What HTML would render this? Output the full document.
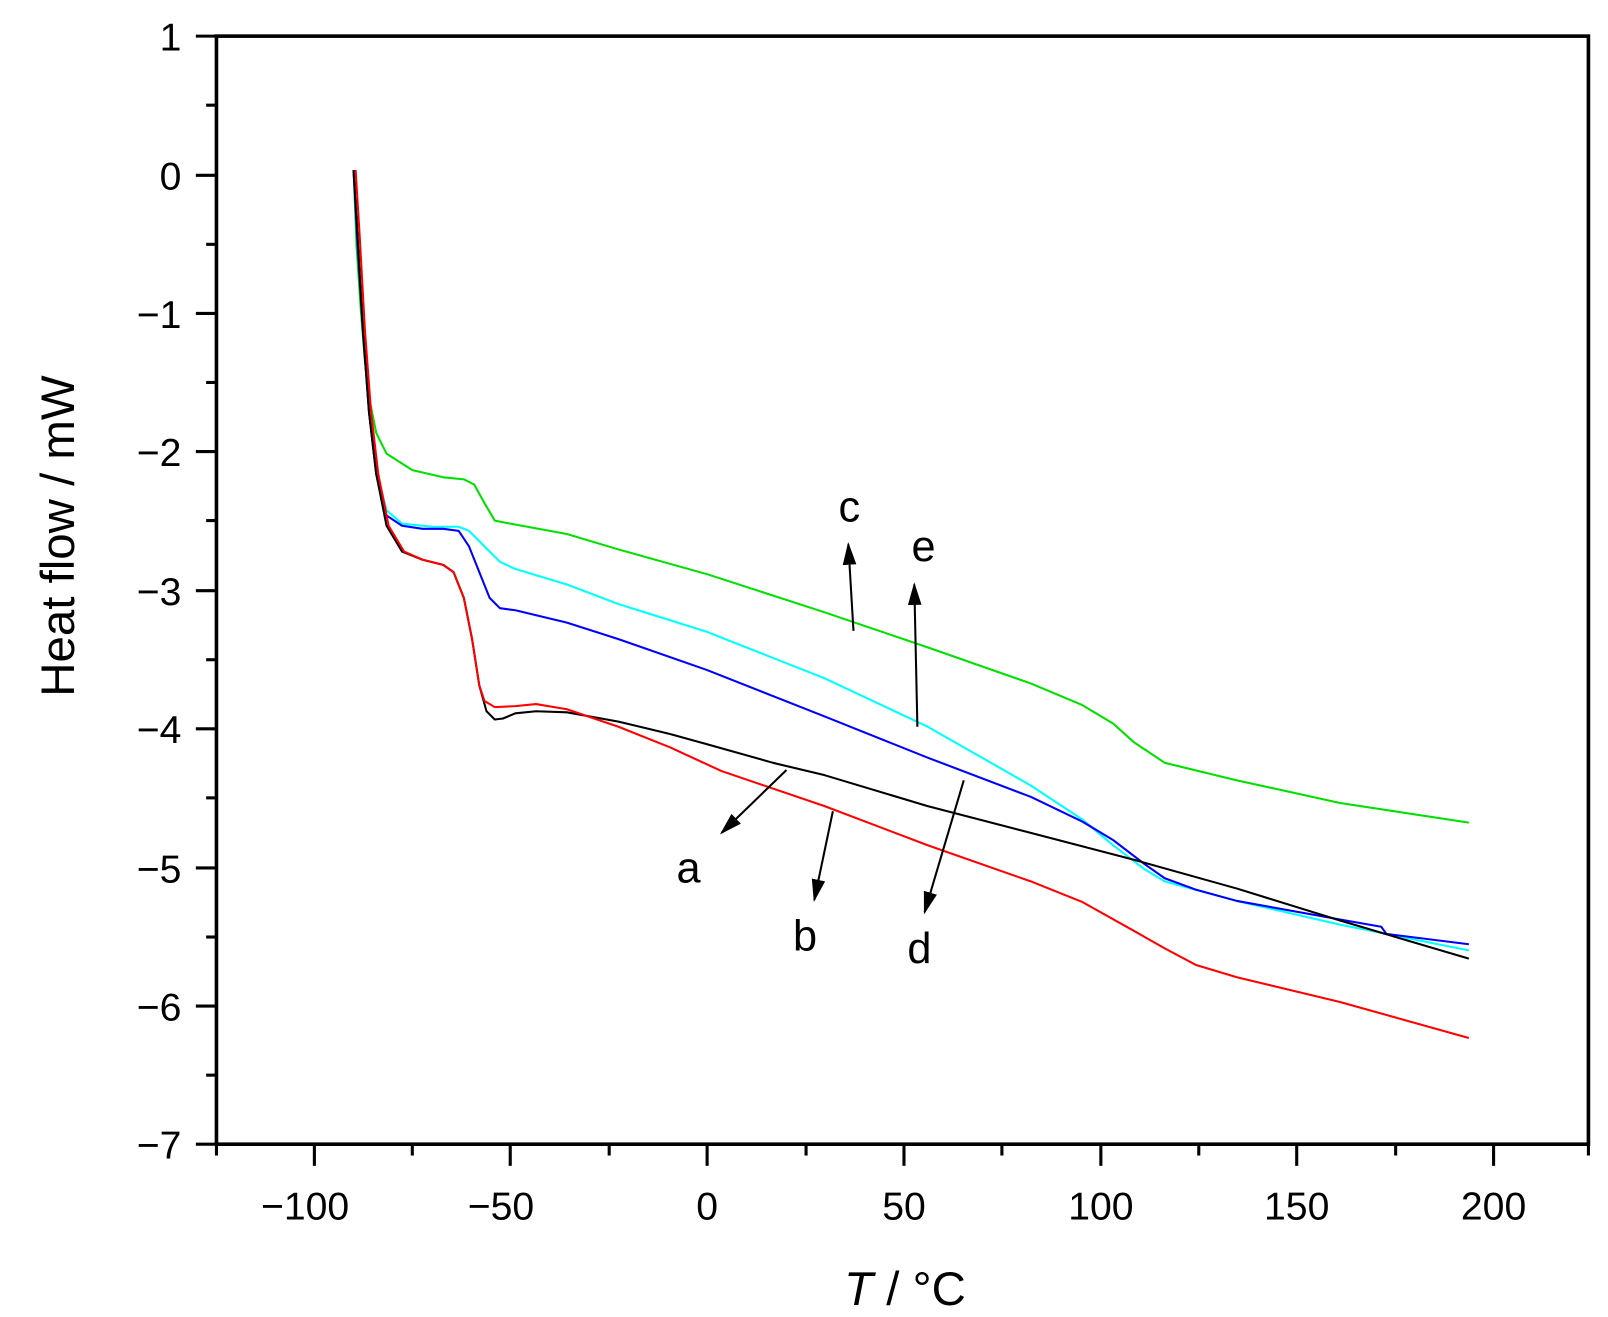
<!DOCTYPE html>
<html><head><meta charset="utf-8"><style>html,body{margin:0;padding:0;background:#fff}svg{display:block}</style></head><body>
<svg width="1608" height="1317" viewBox="0 0 1560 1277.6" xmlns="http://www.w3.org/2000/svg" font-family="Liberation Sans, Arial, sans-serif">
<defs><marker id="ah2" viewBox="0 0 10 10" refX="9" refY="5" markerWidth="22" markerHeight="22" markerUnits="userSpaceOnUse" orient="auto"><path d="M0,2 L10,5 L0,8 z" fill="#000"/></marker></defs>
<rect x="210" y="35" width="1331" height="1075" fill="none" stroke="#000" stroke-width="3.5"/>
<g stroke="#000" stroke-width="3">
<line x1="190" y1="35" x2="210" y2="35"/><line x1="190" y1="170" x2="210" y2="170"/><line x1="190" y1="304" x2="210" y2="304"/><line x1="190" y1="438" x2="210" y2="438"/><line x1="190" y1="573" x2="210" y2="573"/><line x1="190" y1="707" x2="210" y2="707"/><line x1="190" y1="842" x2="210" y2="842"/><line x1="190" y1="976" x2="210" y2="976"/><line x1="190" y1="1110" x2="210" y2="1110"/>
<line x1="200" y1="102" x2="210" y2="102"/><line x1="200" y1="237" x2="210" y2="237"/><line x1="200" y1="371" x2="210" y2="371"/><line x1="200" y1="505" x2="210" y2="505"/><line x1="200" y1="640" x2="210" y2="640"/><line x1="200" y1="774" x2="210" y2="774"/><line x1="200" y1="909" x2="210" y2="909"/><line x1="200" y1="1043" x2="210" y2="1043"/>
<line x1="305" y1="1110" x2="305" y2="1131"/><line x1="495" y1="1110" x2="495" y2="1131"/><line x1="686" y1="1110" x2="686" y2="1131"/><line x1="877" y1="1110" x2="877" y2="1131"/><line x1="1068" y1="1110" x2="1068" y2="1131"/><line x1="1258" y1="1110" x2="1258" y2="1131"/><line x1="1449" y1="1110" x2="1449" y2="1131"/>
<line x1="210" y1="1110" x2="210" y2="1121"/><line x1="400" y1="1110" x2="400" y2="1121"/><line x1="591" y1="1110" x2="591" y2="1121"/><line x1="782" y1="1110" x2="782" y2="1121"/><line x1="972" y1="1110" x2="972" y2="1121"/><line x1="1163" y1="1110" x2="1163" y2="1121"/><line x1="1354" y1="1110" x2="1354" y2="1121"/><line x1="1541" y1="1110" x2="1541" y2="1121"/>
</g>
<g font-size="38" text-anchor="end">
<text x="176" y="49">1</text><text x="176" y="184">0</text><text x="176" y="318">−1</text><text x="176" y="452">−2</text><text x="176" y="587">−3</text><text x="176" y="721">−4</text><text x="176" y="856">−5</text><text x="176" y="990">−6</text><text x="176" y="1124">−7</text>
</g>
<g font-size="38" text-anchor="middle">
<text x="296" y="1183">−100</text><text x="486" y="1183">−50</text><text x="686" y="1183">0</text><text x="877" y="1183">50</text><text x="1068" y="1183">100</text><text x="1258" y="1183">150</text><text x="1449" y="1183">200</text>
</g>
<text x="878" y="1266" font-size="46" text-anchor="middle"><tspan font-style="italic">T</tspan> / °C</text>
<text transform="translate(72,520) rotate(-90)" font-size="46" text-anchor="middle">Heat flow / mW</text>
<g fill="none" stroke-width="2" stroke-linejoin="round">
<polyline stroke="#00e000" points="343,165 346,240 350,300 354,350 358,385 365,420 375,440 400,456 430,463 450,465 460,470 470,488 480,505 495,508 550,518 600,533 686,557 800,594 900,628 1000,663 1050,684 1080,702 1100,720 1130,740 1200,757 1300,779 1425,798"/>
<polyline stroke="#00ffff" points="343,165 347,240 352,310 358,400 365,455 375,495 390,508 420,511 445,511 455,515 470,530 485,545 500,552 550,567 600,586 686,613 800,658 900,705 1000,762 1050,795 1080,820 1110,843 1130,855 1200,874 1300,897 1425,922"/>
<polyline stroke="#0000ff" points="343,165 347,240 352,320 358,400 365,460 375,500 390,510 410,513 430,513 445,515 455,530 465,555 475,580 485,590 500,592 550,604 600,620 686,650 800,695 900,735 1000,773 1050,797 1080,815 1110,838 1130,852 1160,863 1200,874 1300,892 1340,899 1345,906 1425,916"/>
<polyline stroke="#000" points="343,165 347,230 352,320 358,400 365,460 375,510 390,535 410,543 430,548 440,555 450,580 458,620 465,665 472,690 480,698 488,697 500,692 520,690 550,691 600,700 650,712 686,722 750,740 800,752 900,782 1000,808 1100,834 1200,862 1300,893 1425,930"/>
<polyline stroke="#ff0000" points="345,165 349,230 354,320 360,400 367,460 377,510 392,535 410,543 430,548 440,555 450,580 458,620 465,665 470,680 480,686 500,685 520,683 550,688 600,705 650,725 700,748 800,782 900,820 1000,855 1050,875 1100,903 1130,920 1160,936 1200,948 1300,972 1425,1007"/>
</g>
<g stroke="#000" stroke-width="2" marker-end="url(#ah2)">
<line x1="763" y1="747" x2="700" y2="808"/>
<line x1="808" y1="787" x2="790" y2="873"/>
<line x1="935" y1="757" x2="897" y2="885"/>
<line x1="828" y1="612" x2="823" y2="528"/>
<line x1="890" y1="705" x2="887" y2="567"/>
</g>
<g font-size="42" text-anchor="middle">
<text x="668" y="856">a</text><text x="781" y="922">b</text><text x="892" y="934">d</text><text x="824" y="506">c</text><text x="896" y="544">e</text>
</g>
</svg>
</body></html>
